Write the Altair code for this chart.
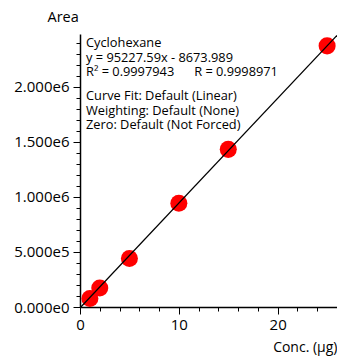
import altair as alt
import pandas as pd

# Data
conc = [1, 2, 5, 10, 15, 25]
area = [78000, 172000, 440000, 942000, 1432000, 2372000]
slope = 95227.59
intercept = -8673.989
x_major = [0, 10, 20]
x_minor = list(range(0, 27, 2))
y_major = [0, 500000, 1000000, 1500000, 2000000]
y_minor = list(range(0, 2500000, 100000))
info_top = ["Cyclohexane", "y = 95227.59x - 8673.989",
            "R\u00b2 = 0.9997943\u00a0\u00a0\u00a0\u00a0\u00a0\u00a0R = 0.9998971"]
info_bottom = ["Curve Fit: Default (Linear)", "Weighting: Default (None)", "Zero: Default (Not Forced)"]

x_max = 26
y_max = 2480000
FONT = "Open Sans"

pts = pd.DataFrame({"x": conc, "y": area})
x0 = -intercept / slope
fit = pd.DataFrame({"x": [x0, x_max], "y": [slope * x0 + intercept, slope * x_max + intercept]})
one = pd.DataFrame({"k": [0]})

xscale = alt.Scale(domain=[0, x_max], nice=False, zero=True)
yscale = alt.Scale(domain=[0, y_max], nice=False, zero=True)

x_major_axis = alt.Axis(
    orient="bottom", values=x_major, grid=False, domainColor="black", tickColor="black",
    tickSize=7, labelOverlap=False, labelFlush=False,
    labelFont=FONT, labelFontSize=15, labelColor="black", labelPadding=3,
    title="Conc. (\u00b5g)", titleFont=FONT, titleFontSize=14, titleFontWeight="normal",
    titleColor="black", titleAnchor="end", titleAlign="right", titleX=257, titleY=40,
    titleBaseline="middle", domainWidth=1.5,
)
y_major_axis = alt.Axis(
    orient="left", values=y_major, grid=False, domainColor="black", tickColor="black",
    tickSize=7, labelOverlap=False, labelFlush=False,
    labelExpr="replace(format(datum.value, '.3e'), '+', '')",
    labelFont=FONT, labelFontSize=15, labelColor="black", labelPadding=4,
    title="Area", titleFont=FONT, titleFontSize=14.5, titleFontWeight="normal",
    titleColor="black", titleAngle=0, titleAlign="left", titleX=-33, titleY=-17,
    titleBaseline="middle", domainWidth=1.5,
)
x_minor_axis = alt.Axis(
    orient="bottom", values=x_minor, grid=False, domain=False, labels=False,
    tickColor="black", tickSize=4, title=None,
)
y_minor_axis = alt.Axis(
    orient="left", values=y_minor, grid=False, domain=False, labels=False,
    tickColor="black", tickSize=4, title=None,
)

line = alt.Chart(fit).mark_line(color="black", strokeWidth=1.3, clip=True).encode(
    x=alt.X("x:Q", scale=xscale, axis=x_minor_axis),
    y=alt.Y("y:Q", scale=yscale, axis=y_minor_axis),
)
points = alt.Chart(pts).mark_circle(color="#ff0000", opacity=1, size=290).encode(
    x=alt.X("x:Q", scale=xscale, axis=x_major_axis),
    y=alt.Y("y:Q", scale=yscale, axis=y_major_axis),
)
t1 = alt.Chart(one).mark_text(
    text=info_top, align="left", baseline="middle", font=FONT, fontSize=12.8,
    lineHeight=14.5, color="black",
).encode(x=alt.value(6), y=alt.value(9))
t2 = alt.Chart(one).mark_text(
    text=info_bottom, align="left", baseline="middle", font=FONT, fontSize=12.8,
    lineHeight=14.5, color="black",
).encode(x=alt.value(6), y=alt.value(62))

chart = alt.layer(points, line, t1, t2).resolve_scale(
    x="independent", y="independent"
).properties(
    width=257, height=273,
    padding={"left": 80, "top": 34, "right": 0, "bottom": 54},
    autosize=alt.AutoSizeParams(type="none"),
).configure_view(stroke=None)

chart.save("out.html", embed_options={"renderer": "svg", "actions": False})
